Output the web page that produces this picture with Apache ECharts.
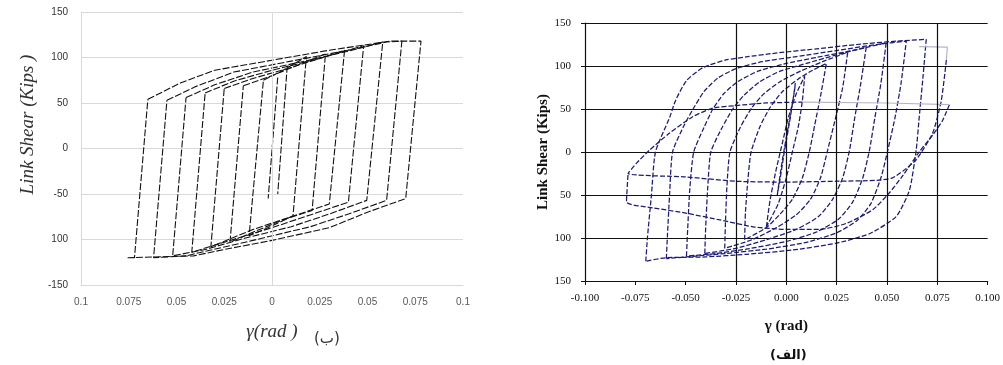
<!DOCTYPE html>
<html>
<head>
<meta charset="utf-8">
<script src="https://cdn.jsdelivr.net/npm/echarts@6/dist/echarts.min.js"></script>
<style>
  html, body { margin: 0; padding: 0; background: #fff; }
  #chart { width: 1003px; height: 365px; }
</style>
</head>
<body>
<div id="chart"></div>
<script>
// tick labels as printed in the figure (minus signs lost on some)
const leftXLabels = ['0.1', '0.075', '0.05', '0.025', '0', '0.025', '0.05', '0.075', '0.1'];
const leftYLabels = ['-150', '100', '-50', '0', '50', '100', '150'];
const rightXLabels = ['-0.100', '-0.075', '-0.050', '-0.025', '0.000', '0.025', '0.050', '0.075', '0.100'];
const rightYLabels = ['150', '100', '50', '0', '50', '100', '150'];
const rightGridX = [-0.025, 0, 0.025, 0.05, 0.075];

// left panel (b): model cycles, [gamma, shear]
const leftCycle1 = [[-0.065, 54], [-0.048, 72], [-0.03, 86], [0, 97], [0.03, 108], [0.062, 118], [0.078, 118], [0.070, -55], [0.05, -70], [0.03, -87], [0, -101], [-0.025, -111], [-0.041, -118], [-0.0756, -120], [-0.072, -120], [-0.065, 54]];
const leftCycle2 = [[-0.055, 53], [-0.04, 68], [-0.02, 84], [0.01, 96], [0.04, 108], [0.06, 117], [0.068, 118], [0.060, -57], [0.04, -72], [0.02, -86], [-0.01, -101], [-0.035, -113], [-0.045, -118], [-0.062, -120], [-0.055, 53]];
const leftCycle3 = [[-0.045, 56], [-0.03, 70], [-0.01, 84], [0.015, 95], [0.04, 107], [0.058, 117], [0.0496, -57], [0.03, -72], [0.01, -86], [-0.015, -99], [-0.035, -111], [-0.052, -118], [-0.045, 56]];
const leftCycle4 = [[-0.035, 61], [-0.02, 74], [0, 86], [0.025, 99], [0.048, 113], [0.040, -59], [0.02, -73], [0, -87], [-0.025, -103], [-0.042, -114], [-0.035, 61]];
const leftCycle5 = [[-0.025, 66], [-0.01, 77], [0.01, 89], [0.025, 99], [0.038, 108], [0.030, -61], [0.01, -75], [-0.01, -89], [-0.032, -108], [-0.025, 66]];
const leftCycle6 = [[-0.015, 69], [0, 80], [0.015, 93], [0.028, 104], [0.021, -68], [0.005, -79], [-0.01, -92], [-0.022, -103], [-0.015, 69]];
const leftCycle7 = [[-0.0045, 75], [0.005, 85], [0.018, 101], [0.011, -74], [0, -85], [-0.012, -96], [-0.0045, 75]];
const leftCycle8 = [[0.008, 91], [0.003, -50]];
const leftCycle9 = [[0.003, 78], [-0.002, -55]];

// right panel (a): test cycles
const rightCycle0 = [[-0.0045, -50], [-0.002, -10], [0.001, 30], [0.004, 70], [0.0045, 80], [0.002, 40], [-0.001, 0], [-0.003, -30], [-0.0045, -50]];
const rightCycle1 = [[-0.0099, -87], [-0.008, -55], [-0.005, -20], [-0.002, 10], [0.001, 40], [0.005, 68], [0.0091, 88], [0.008, 60], [0.006, 30], [0.003, 0], [0, -30], [-0.004, -60], [-0.0099, -87]];
const rightCycle2 = [[-0.0207, -102], [-0.0203, -70], [-0.019, -30], [-0.0175, 0], [-0.013, 30], [-0.008, 52], [-0.002, 70], [0.006, 85], [0.013, 95], [0.0199, 103], [0.017, 65], [0.014, 30], [0.0116, 2], [0.008, -30], [0.003, -55], [-0.003, -72], [-0.01, -88], [-0.0207, -102]];
const rightCycle3 = [[-0.0306, -112], [-0.0302, -80], [-0.0295, -40], [-0.028, 0], [-0.023, 28], [-0.017, 52], [-0.011, 68], [-0.003, 82], [0.007, 94], [0.018, 105], [0.0305, 116], [0.028, 75], [0.024, 35], [0.0205, 2], [0.017, -30], [0.012, -55], [0.005, -73], [-0.005, -88], [-0.017, -102], [-0.0306, -112]];
const rightCycle4 = [[-0.0405, -118], [-0.04, -85], [-0.039, -40], [-0.0375, 0], [-0.032, 28], [-0.0266, 50], [-0.021, 66], [-0.013, 82], [-0.003, 94], [0.01, 103], [0.025, 113], [0.0397, 122], [0.037, 80], [0.034, 40], [0.0314, 2], [0.028, -30], [0.023, -55], [0.016, -75], [0.005, -90], [-0.01, -102], [-0.025, -112], [-0.0405, -118]];
const rightCycle5 = [[-0.0496, -121], [-0.049, -90], [-0.048, -45], [-0.046, 0], [-0.041, 28], [-0.0365, 50], [-0.031, 68], [-0.024, 82], [-0.014, 94], [0, 103], [0.015, 110], [0.035, 119], [0.0496, 127], [0.047, 80], [0.044, 40], [0.0413, 2], [0.038, -30], [0.033, -58], [0.026, -78], [0.015, -93], [0, -104], [-0.02, -113], [-0.035, -118], [-0.0496, -121]];
const rightCycle6 = [[-0.0596, -124], [-0.059, -95], [-0.058, -50], [-0.0565, 0], [-0.051, 30], [-0.0463, 50], [-0.041, 70], [-0.034, 86], [-0.025, 97], [-0.012, 105], [0.005, 111], [0.025, 118], [0.045, 125], [0.0596, 129], [0.057, 80], [0.054, 40], [0.0504, 2], [0.047, -30], [0.042, -60], [0.035, -80], [0.025, -94], [0.01, -105], [-0.01, -113], [-0.03, -118], [-0.045, -121], [-0.0596, -124]];
const rightCycle7 = [[-0.0698, -127], [-0.069, -100], [-0.067, -50], [-0.065, 0], [-0.058, 40], [-0.055, 60], [-0.0496, 83], [-0.0415, 98], [-0.03, 107], [-0.02, 110.5], [-0.007, 114.5], [0.015, 120], [0.035, 125], [0.055, 129], [0.0695, 131], [0.068, 90], [0.066, 40], [0.0645, 2], [0.0612, -44], [0.0546, -75], [0.0413, -95], [0.0248, -106], [0.003, -114], [-0.02, -119], [-0.04, -122], [-0.06, -123], [-0.0698, -127]];
// degraded cycles at +/-0.08
const rightDegradeA = [[0.0795, 107], [0.077, 60], [0.0727, 22], [0.0645, -9], [0.058, -22], [0.0528, -30], [0.045, -33], [0.025, -34], [0, -35], [-0.025, -34], [-0.05, -29], [-0.0786, -25], [-0.0744, -13], [-0.068, 2], [-0.058, 22], [-0.0465, 41], [-0.0365, 51], [-0.025, 54], [-0.01, 57], [0.008, 58]];
const rightDegradeB = [[0.081, 55], [0.0777, 37], [0.0728, 20], [0.066, 0], [0.058, -27], [0.051, -48], [0.043, -67], [0.0298, -83], [0.0165, -90], [0, -90], [-0.0165, -87], [-0.033, -79], [-0.05, -71], [-0.066, -65], [-0.0794, -58], [-0.0786, -25]];
const rightGreyTop = [[0.066, 122.5], [0.080, 122], [0.0795, 107]];
const rightGreyMid = [[0.008, 58], [0.05, 57], [0.081, 55]];

const leftCycles = [leftCycle1, leftCycle2, leftCycle3, leftCycle4, leftCycle5, leftCycle6, leftCycle7, leftCycle8, leftCycle9];
const rightCycles = [rightCycle0, rightCycle1, rightCycle2, rightCycle3, rightCycle4, rightCycle5, rightCycle6, rightCycle7, rightDegradeA, rightDegradeB];

const serif = 'Liberation Serif';
const navy = '#1a1a7a';

const series = [];
// x = 0 line on left panel, vertical grid on right panel
series.push({
  type: 'line', xAxisIndex: 0, yAxisIndex: 0, data: [], z: 1,
  markLine: { symbol: 'none', silent: true, precision: 4, label: { show: false },
    lineStyle: { color: '#d9d9d9', type: 'solid', width: 1 },
    data: [{ xAxis: 0 }] }
});
series.push({
  type: 'line', xAxisIndex: 1, yAxisIndex: 1, data: [], z: 1,
  markLine: { symbol: 'none', silent: true, precision: 4, label: { show: false },
    lineStyle: { color: '#111', type: 'solid', width: 1.2 },
    data: rightGridX.map(v => ({ xAxis: v })) }
});
leftCycles.forEach(d => series.push({
  type: 'line', xAxisIndex: 0, yAxisIndex: 0, data: d, showSymbol: false, z: 3,
  lineStyle: { color: '#111', width: 1.1, type: [7, 2] }
}));
rightCycles.forEach(d => series.push({
  type: 'line', xAxisIndex: 1, yAxisIndex: 1, data: d, showSymbol: false, z: 3, smooth: 0.2,
  lineStyle: { color: navy, width: 1.25, type: [5, 2] }
}));
[rightGreyTop, rightGreyMid].forEach(d => series.push({
  type: 'line', xAxisIndex: 1, yAxisIndex: 1, data: d, showSymbol: false, z: 3,
  lineStyle: { color: '#b5b5c8', width: 1.2 }
}));

const option = {
  animation: false,
  backgroundColor: '#fff',
  grid: [
    { left: 81, top: 12, width: 382, height: 273 },
    { left: 585, top: 23, width: 403, height: 258 }
  ],
  xAxis: [
    {
      type: 'value', gridIndex: 0, min: -0.1, max: 0.1, interval: 0.025,
      axisLine: { onZero: false, lineStyle: { color: '#d9d9d9' } },
      axisTick: { show: false },
      splitLine: { show: false },
      axisLabel: { formatter: (v, i) => leftXLabels[i], color: '#595959', fontSize: 10, margin: 12, fontFamily: 'Liberation Sans' },
      name: 'γ(rad )', nameLocation: 'middle', nameGap: 37,
      nameTextStyle: { fontFamily: serif, fontStyle: 'italic', fontSize: 19, color: '#333' }
    },
    {
      type: 'value', gridIndex: 1, min: -0.1, max: 0.1, interval: 0.025,
      axisLine: { onZero: false, lineStyle: { color: '#111', width: 1.2 } },
      axisTick: { show: true, inside: false, length: 4, lineStyle: { color: '#111' } },
      splitLine: { show: false },
      axisLabel: { formatter: (v, i) => rightXLabels[i], color: '#111', fontSize: 11, margin: 12, fontFamily: serif },
      name: 'γ (rad)', nameLocation: 'middle', nameGap: 38,
      nameTextStyle: { fontFamily: serif, fontWeight: 'bold', fontSize: 15, color: '#111' }
    }
  ],
  yAxis: [
    {
      type: 'value', gridIndex: 0, min: -150, max: 150, interval: 50,
      axisLine: { show: true, onZero: false, lineStyle: { color: '#d9d9d9' } },
      axisTick: { show: false },
      splitLine: { show: true, lineStyle: { color: '#d9d9d9', width: 1 } },
      axisLabel: { formatter: (v, i) => leftYLabels[i], color: '#333', fontSize: 10, margin: 13, fontFamily: 'Liberation Sans' },
      name: 'Link Shear (Kips )', nameLocation: 'middle', nameGap: 44,
      nameTextStyle: { fontFamily: serif, fontStyle: 'italic', fontSize: 19, color: '#333', padding: [0, 0, 0, 48] }
    },
    {
      type: 'value', gridIndex: 1, min: -150, max: 150, interval: 50,
      axisLine: { show: true, onZero: false, lineStyle: { color: '#111', width: 1.2 } },
      axisTick: { show: true, inside: false, length: 4, lineStyle: { color: '#111' } },
      splitLine: { show: true, lineStyle: { color: '#111', width: 1.2 } },
      axisLabel: { formatter: (v, i) => rightYLabels[i], color: '#111', fontSize: 11, margin: 14, fontFamily: serif },
      name: 'Link Shear (Kips)', nameLocation: 'middle', nameGap: 30,
      nameTextStyle: { fontFamily: serif, fontWeight: 'bold', fontSize: 15, color: '#111' }
    }
  ],
  graphic: [
    { type: 'text', left: 314, top: 332, style: { text: '(ب)', font: '15px "DejaVu Sans"', fill: '#333' } },
    { type: 'text', left: 770, top: 349, style: { text: '(الف)', font: 'bold 13px "DejaVu Sans"', fill: '#111' } }
  ],
  series: series
};

const chart = echarts.init(document.getElementById('chart'));
chart.setOption(option);
</script>
</body>
</html>
